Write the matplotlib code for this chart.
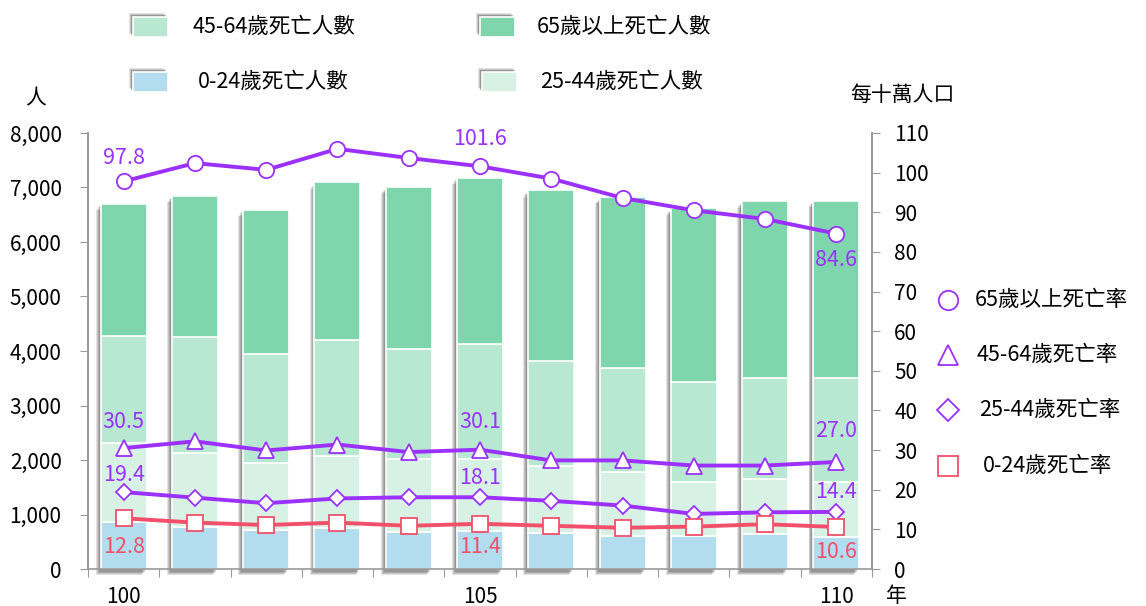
import matplotlib
matplotlib.use("Agg")
import matplotlib.pyplot as plt
import matplotlib.patheffects as pe
from matplotlib.patches import Rectangle
from matplotlib.lines import Line2D
import numpy as np

plt.rcParams['font.family'] = ['Noto Sans CJK TC', 'DejaVu Sans']

years = [100, 101, 102, 103, 104, 105, 106, 107, 108, 109, 110]
year_labels = ['100', '', '', '', '', '105', '', '', '', '', '110']

deaths_0_24 = [857, 777, 716, 747, 673, 698, 655, 612, 606, 637, 593]
deaths_25_44 = [1462, 1359, 1236, 1328, 1341, 1316, 1242, 1175, 997, 1016, 1010]
deaths_45_64 = [1959, 2112, 1990, 2118, 2020, 2117, 1922, 1898, 1837, 1848, 1898]
deaths_65 = [2424, 2601, 2650, 2901, 2975, 3049, 3128, 3140, 3176, 3244, 3256]

rate_65 = [97.8, 102.4, 100.7, 106.0, 103.7, 101.6, 98.5, 93.6, 90.5, 88.3, 84.6]
rate_45_64 = [30.5, 32.2, 29.9, 31.4, 29.5, 30.1, 27.4, 27.4, 26.1, 26.1, 27.0]
rate_25_44 = [19.4, 18.0, 16.6, 17.8, 18.1, 18.1, 17.2, 16.0, 13.9, 14.3, 14.4]
rate_0_24 = [12.8, 11.7, 11.1, 11.7, 10.9, 11.4, 10.9, 10.4, 10.7, 11.3, 10.6]

bar_names = ['0-24歲死亡人數', '25-44歲死亡人數', '45-64歲死亡人數', '65歲以上死亡人數']
rate_names = ['65歲以上死亡率', '45-64歲死亡率', '25-44歲死亡率', '0-24歲死亡率']

c_0_24 = '#B3DCEE'
c_25_44 = '#D7F2E5'
c_45_64 = '#B8E8D1'
c_65 = '#80D6AC'
c_purple = '#9B30FF'
c_red = '#F2506A'
c_axis = '#999999'

FS = 15
FS_LEG = 15.5

fig = plt.figure(figsize=(11.46, 6.06), dpi=100)
ax = fig.add_axes([88/1146, 1-569/606, (872-88)/1146, (569-133)/606])
ax2 = ax.twinx()

x = np.arange(len(years))
w = 0.645
totals = np.array(deaths_0_24) + np.array(deaths_25_44) + np.array(deaths_45_64) + np.array(deaths_65)

def soft_shadow(dx, dy):
    effs = []
    for k, a in [(1.0, 0.14), (0.8, 0.15), (0.6, 0.17), (0.4, 0.18)]:
        effs.append(pe.SimplePatchShadow(offset=(dx * k, dy * k), shadow_rgbFace='#303030', alpha=a))
    effs.append(pe.Normal())
    return effs

# shadows
shadow = ax.bar(x, totals, w, color='white', zorder=1, clip_on=False)
for p in shadow:
    p.set_path_effects(soft_shadow(-3.5, -4.5))

bottom = np.zeros(len(years))
for vals, col in [(deaths_0_24, c_0_24), (deaths_25_44, c_25_44), (deaths_45_64, c_45_64), (deaths_65, c_65)]:
    ax.bar(x, vals, w, bottom=bottom, color=col, edgecolor='white', linewidth=1.2, zorder=2)
    bottom += np.array(vals)

ax.set_ylim(0, 8000)
ax.set_xlim(-0.5, len(years) - 0.5)
ax2.set_ylim(0, 110)

ax.set_yticks(np.arange(0, 8001, 1000))
ax.set_yticklabels([f'{v:,}' for v in range(0, 8001, 1000)], fontsize=FS)
ax2.set_yticks(np.arange(0, 111, 10))
ax2.set_yticklabels([str(v) for v in range(0, 111, 10)], fontsize=FS)

ax.set_xticks(np.arange(-0.5, len(years) + 0.5, 1))
ax.set_xticklabels([])
ax.set_xticks(x, minor=True)
ax.set_xticklabels(year_labels, minor=True, fontsize=FS)
ax.tick_params(axis='x', which='major', length=6, color=c_axis, direction='out')
ax.tick_params(axis='x', which='minor', length=0, pad=12)
ax.tick_params(axis='y', length=6, color=c_axis, pad=13)
ax2.tick_params(axis='y', length=6, color=c_axis, pad=10)

for a in (ax, ax2):
    a.spines['top'].set_visible(False)
    for s in ('left', 'right', 'bottom'):
        a.spines[s].set_color(c_axis)
        a.spines[s].set_linewidth(1.2)
ax2.spines['bottom'].set_visible(False)
ax.set_zorder(ax2.get_zorder() - 1)
ax2.patch.set_visible(False)
ax.patch.set_visible(False)

ms_kw = dict(markerfacecolor='white', zorder=5, clip_on=False)
ax2.plot(x, rate_65, color=c_purple, lw=2.8, marker='o', ms=11, mew=1.3, markeredgecolor=c_purple, **ms_kw)
ax2.plot(x, rate_45_64, color=c_purple, lw=2.8, marker='^', ms=12, mew=1.3, markeredgecolor=c_purple, **ms_kw)
ax2.plot(x, rate_25_44, color=c_purple, lw=2.8, marker='D', ms=8.5, mew=1.3, markeredgecolor=c_purple, **ms_kw)
ax2.plot(x, rate_0_24, color=c_red, lw=2.8, marker='s', ms=11, mew=1.3, markeredgecolor=c_red, **ms_kw)

label_idx = [0, 5, 10]
def lab(series, offsets, color):
    for i, off in zip(label_idx, offsets):
        ax2.annotate(f'{series[i]:.1f}', (x[i], series[i]), xytext=(0, off), textcoords='offset points',
                     ha='center', va='center', fontsize=15.5, color=color, fontweight='medium', zorder=6)

lab(rate_65, [17, 20, -19], c_purple)
lab(rate_45_64, [19, 20, 22], c_purple)
lab(rate_25_44, [12, 14, 14], c_purple)
lab(rate_0_24, [-21, -17, -18], c_red)

# axis unit labels
fig.text(36/1146, 1-98/606, '人', fontsize=FS, ha='center', va='center')
fig.text(902/1146, 1-95/606, '每十萬人口', fontsize=FS, ha='center', va='center')
fig.text(896/1146, 1-596/606, '年', fontsize=FS, ha='center', va='center')

# top legend
def fig_rect(x0, y0, x1, y1, col):
    r = Rectangle((x0/1146, 1-y1/606), (x1-x0)/1146, (y1-y0)/606, transform=fig.transFigure,
                  facecolor=col, edgecolor='white', linewidth=1.2)
    r.set_path_effects(soft_shadow(-3, 3))
    fig.add_artist(r)

top_items = [
    (133, 17, bar_names[2], c_45_64, 193),
    (480, 17, bar_names[3], c_65, 537),
    (133, 72, bar_names[0], c_0_24, 198),
    (482, 72, bar_names[1], c_25_44, 540),
]
for px, py, name, col, tx in top_items:
    fig_rect(px, py, px + 35, py + 20, col)
    fig.text(tx/1146, 1-(py + 10)/606, name, fontsize=FS_LEG, ha='left', va='center')

# right legend
right_items = [
    (300, 'o', c_purple, 14, rate_names[0], 975),
    (355, '^', c_purple, 15, rate_names[1], 977),
    (410, 'D', c_purple, 11, rate_names[2], 979),
    (466, 's', c_red, 14, rate_names[3], 983),
]
for py, m, col, ms, name, tx in right_items:
    fig.add_artist(Line2D([948/1146], [1-py/606], transform=fig.transFigure, marker=m, ms=ms,
                          markerfacecolor='white', markeredgecolor=col, mew=1.3, linestyle='none'))
    fig.text(tx/1146, 1-py/606, name, fontsize=FS_LEG, ha='left', va='center')

fig.savefig('out.png', dpi=100)
